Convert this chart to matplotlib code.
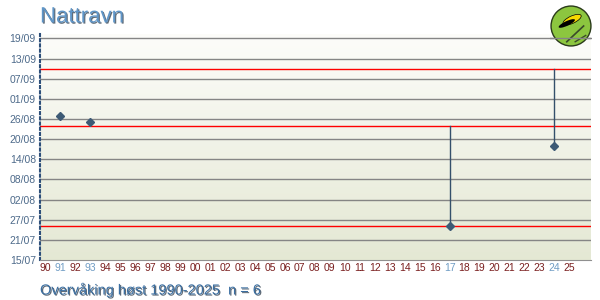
import datetime as dt
import matplotlib
matplotlib.use("Agg")
import matplotlib.pyplot as plt
import matplotlib.patheffects as pe
from matplotlib.patches import Ellipse
import numpy as np

plt.rcParams['font.family'] = ['Liberation Sans', 'DejaVu Sans']

# observations: year, first date (dd/mm)
obs_years = [1991, 1993, 2017, 2024]
obs_dates = ['27/08', '25/08', '25/07', '18/08']
# vertical range lines (year, from, to)
range_years = [2017, 2024]
range_from = ['25/07', '18/08']
range_to = ['24/08', '10/09']
# red reference lines
ref_dates = ['25/07', '24/08', '10/09']

tick_dates = ['15/07', '21/07', '27/07', '02/08', '08/08', '14/08',
              '20/08', '26/08', '01/09', '07/09', '13/09', '19/09']
years = list(range(1990, 2026))

base = dt.date(2000, 7, 15)


def day(s):
    d, m = s.split('/')
    return (dt.date(2000, int(m), int(d)) - base).days


fig = plt.figure(figsize=(6, 3), dpi=100)
fig.patch.set_facecolor('white')

ax = fig.add_axes([40 / 600, 40 / 300, 551 / 600, 226 / 300], zorder=1)
x0, x1 = 1989.64, 2026.45
ax.set_xlim(x0, x1)
ax.set_ylim(0, 67.3)

# gradient background
grad = np.linspace(0, 1, 256).reshape(-1, 1)
top = np.array([0.99, 0.99, 0.98])
bot = np.array([0.895, 0.91, 0.83])
img = top + (bot - top) * grad[:, :, None] * np.ones((1, 1, 3))
ax.imshow(img, extent=[x0, x1, 0, 67.3], aspect='auto', zorder=0)
ax.set_xlim(x0, x1)
ax.set_ylim(0, 67.3)

for t in tick_dates[1:]:
    ax.axhline(day(t), color='#858585', lw=1, zorder=1)
for r in ref_dates:
    ax.axhline(day(r), color='#ff0000', lw=1, zorder=2)

for y, a, b in zip(range_years, range_from, range_to):
    ax.plot([y, y], [day(a), day(b)], color='#34506b', lw=1, zorder=3)
ax.plot(obs_years, [day(s) for s in obs_dates], 'D', color='#3d5a75',
        ms=4, zorder=4)

ax.set_yticks([day(t) for t in tick_dates])
ax.set_yticklabels(tick_dates, fontsize=7.5, color='#4d6a8a')
ax.set_xticks(years)
xl = ax.set_xticklabels([str(y)[2:] for y in years], fontsize=7.5)
for y, lab in zip(years, xl):
    lab.set_color('#6f9cc4' if y in obs_years else '#7a1f1f')
ax.tick_params(axis='both', length=0, pad=2)
ax.tick_params(axis='y', pad=3)

for s in ['top', 'right']:
    ax.spines[s].set_visible(False)
ax.spines['bottom'].set_color('#909090')
ax.spines['left'].set_color('#2d4f7a')
ax.spines['left'].set_linestyle((0, (1, 1.5)))
ax.spines['left'].set_linewidth(1.5)

# logo, top right; the top grid line runs across it
lax = fig.add_axes([550 / 600, 1 - 47 / 300, 42 / 600, 42 / 300], zorder=2)
lax.set_xlim(-1, 1)
lax.set_ylim(-1, 1)
lax.axis('off')
lax.add_patch(plt.Circle((0, 0), 0.95, fc='#8cc63f', ec='#2a3a1a', lw=1))
lax.plot([-0.2, 0.6], [-0.75, 0.0], color='#3a4a2a', lw=1.2)
lax.plot([0.2, 0.7], [-0.75, -0.45], color='#3a4a2a', lw=1.0)
lax.add_patch(Ellipse((0.05, 0.3), 0.95, 0.35, angle=25, fc='#f5d800', ec='black', lw=0.5))
lax.add_patch(Ellipse((-0.2, 0.12), 0.85, 0.22, angle=25, fc='black'))
lax.plot([-1, 0.95], [-0.586, -0.586], color='#858585', lw=1)

shadow = [pe.withSimplePatchShadow(offset=(0.8, -0.8), shadow_rgbFace='#1c2c3c', alpha=0.7)]
fig.text(40 / 600, 1 - 17 / 300, 'Nattravn', fontsize=16, color='#6096c8',
         va='center', ha='left', path_effects=shadow)
fig.text(40 / 600, 1 - 290 / 300, 'Overvåking høst 1990-2025  n = 6', fontsize=10.5,
         color='#3b6fa2', va='center', ha='left', path_effects=shadow)

fig.savefig('out.png', dpi=100)
